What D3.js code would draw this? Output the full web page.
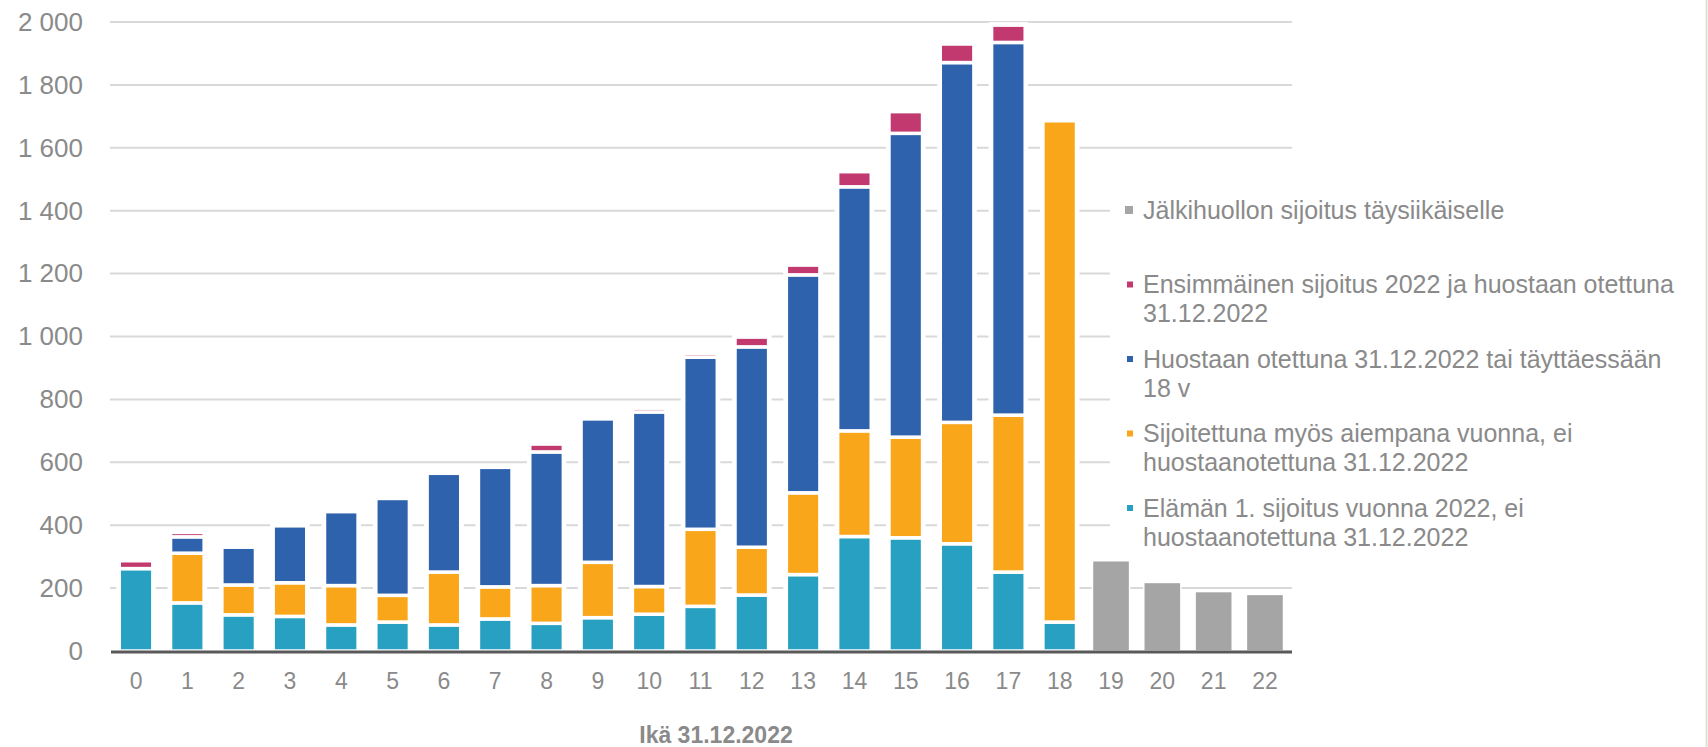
<!DOCTYPE html>
<html>
<head>
<meta charset="utf-8">
<script src="https://cdnjs.cloudflare.com/ajax/libs/d3/7.8.5/d3.min.js"></script>
<style>
  html, body { margin: 0; padding: 0; background: #ffffff; }
  svg { display: block; }
  text { font-family: "Liberation Sans", Arial, sans-serif; fill: #8a8a8a; }
</style>
</head>
<body>
<script>
// ages on the x axis
var ages = ["0", "1", "2", "3", "4", "5", "6", "7", "8", "9", "10", "11",
            "12", "13", "14", "15", "16", "17", "18", "19", "20", "21", "22"];

// series, bottom to top in the stack
var elaman      = [262, 153, 115, 110, 83, 92, 83, 102, 88, 106, 117, 142, 178, 243, 364, 360, 341, 251, 92, 0, 0, 0, 0];
var sijoitettu  = [0, 158, 95, 107, 125, 85, 168, 102, 120, 176, 88, 245, 152, 260, 336, 320, 386, 499, 1594, 0, 0, 0, 0];
var huostaan    = [0, 52, 120, 181, 235, 308, 314, 380, 425, 456, 555, 547, 637, 693, 776, 966, 1144, 1185, 0, 0, 0, 0, 0];
var ensimmainen = [25, 14, 0, 0, 0, 0, 0, 0, 25, 0, 12, 12, 31, 31, 48, 69, 59, 55, 0, 0, 0, 0, 0];
var jalkihuolto = [0, 0, 0, 0, 0, 0, 0, 0, 0, 0, 0, 0, 0, 0, 0, 0, 0, 0, 0, 287, 218, 189, 180];

var yTicks = [0, 200, 400, 600, 800, 1000, 1200, 1400, 1600, 1800, 2000];

var keys = ["elaman", "sijoitettu", "huostaan", "ensimmainen"];
var colors = {
  elaman: "#28a0c1",
  sijoitettu: "#f9a61b",
  huostaan: "#2f62ad",
  ensimmainen: "#c1396f",
  jalkihuolto: "#a5a5a5"
};

// legend, top to bottom
var legendItems = [
  { key: "jalkihuolto", lines: ["Jälkihuollon sijoitus täysiikäiselle"] },
  { key: "ensimmainen", lines: ["Ensimmäinen sijoitus 2022 ja huostaan otettuna", "31.12.2022"] },
  { key: "huostaan", lines: ["Huostaan otettuna 31.12.2022 tai täyttäessään", "18 v"] },
  { key: "sijoitettu", lines: ["Sijoitettuna myös aiempana vuonna, ei", "huostaanotettuna 31.12.2022"] },
  { key: "elaman", lines: ["Elämän 1. sijoitus vuonna 2022, ei", "huostaanotettuna 31.12.2022"] }
];

var width = 1708, height = 747;

var rows = ages.map(function (a, i) {
  return {
    age: a,
    elaman: elaman[i],
    sijoitettu: sijoitettu[i],
    huostaan: huostaan[i],
    ensimmainen: ensimmainen[i],
    jalkihuolto: jalkihuolto[i]
  };
});

var svg = d3.select("body").append("svg")
  .attr("width", width)
  .attr("height", height);

svg.append("rect")
  .attr("width", width).attr("height", height)
  .attr("fill", "#ffffff");

// right edge frame
svg.append("line")
  .attr("x1", 1706.5).attr("x2", 1706.5)
  .attr("y1", 0).attr("y2", height)
  .attr("stroke", "#dde1d3").attr("stroke-width", 2);

var x = d3.scaleBand()
  .domain(ages)
  .range([110.5, 1290.5])
  .paddingInner(0.345)
  .paddingOuter(0.17);

var y = d3.scaleLinear()
  .domain([0, 2000])
  .range([651, 22]);

//
// gridlines
//
svg.append("g")
  .selectAll("line")
  .data(yTicks.slice(1))
  .enter().append("line")
  .attr("x1", 110).attr("x2", 1292)
  .attr("y1", function (d) { return y(d); })
  .attr("y2", function (d) { return y(d); })
  .attr("stroke", "#d9d9d9")
  .attr("stroke-width", 2);

// legend background hides the gridlines behind it
svg.append("rect")
  .attr("x", 1110).attr("y", 178)
  .attr("width", 560).attr("height", 382)
  .attr("fill", "#ffffff");

//
// stacked bars
//
var stacked = d3.stack().keys(keys)(rows);

var bw = x.bandwidth();
var cx = function (d) { return x(d.data.age) + bw / 2; };

// white halo behind each column
var totals = stacked[stacked.length - 1];
svg.append("g")
  .selectAll("rect")
  .data(totals.filter(function (d) { return d[1] > 0; }))
  .enter().append("rect")
  .attr("x", function (d) { return cx(d) - bw / 2 - 3; })
  .attr("width", bw + 6)
  .attr("y", function (d) { return y(d[1]) - 3; })
  .attr("height", function (d) { return y(0) - y(d[1]) + 3; })
  .attr("fill", "#ffffff");

svg.append("g")
  .selectAll("g")
  .data(stacked)
  .enter().append("g")
  .attr("fill", function (s) { return colors[s.key]; })
  .selectAll("rect")
  .data(function (s) { return s.filter(function (d) { return d[1] - d[0] > 0; }); })
  .enter().append("rect")
  .attr("x", function (d) { return cx(d) - bw / 2; })
  .attr("width", bw)
  .attr("y", function (d) { return y(d[1]); })
  .attr("height", function (d) { return y(d[0]) - y(d[1]); })
  .attr("stroke", "#ffffff")
  .attr("stroke-width", 3.5);

// grey bars are a little wider
var gw = bw + 3.5;
svg.append("g")
  .selectAll("rect")
  .data(rows.filter(function (d) { return d.jalkihuolto > 0; }))
  .enter().append("rect")
  .attr("x", function (d) { return x(d.age) + bw / 2 - gw / 2; })
  .attr("width", gw)
  .attr("y", function (d) { return y(d.jalkihuolto); })
  .attr("height", function (d) { return y(0) - y(d.jalkihuolto); })
  .attr("fill", colors.jalkihuolto)
  .attr("stroke", "#ffffff")
  .attr("stroke-width", 1.5);

//
// axes
//
var yAxis = d3.axisLeft(y)
  .tickValues(yTicks)
  .tickSize(0)
  .tickPadding(0)
  .tickFormat(function (d) { return d3.format(",")(d).replace(",", " "); });

var gy = svg.append("g")
  .attr("transform", "translate(83,0)")
  .call(yAxis);
gy.select(".domain").remove();
gy.selectAll("text")
  .attr("x", 0)
  .style("font-size", "26px")
  .attr("fill", "#8a8a8a");

var xAxis = d3.axisBottom(x).tickSize(0).tickPadding(0);
var gx = svg.append("g")
  .attr("transform", "translate(0,652)")
  .call(xAxis);
gx.select(".domain").remove();
gx.selectAll("text")
  .attr("y", 21)
  .attr("dy", "0.71em")
  .style("font-size", "23px")
  .attr("fill", "#8a8a8a");

svg.append("line")
  .attr("x1", 111).attr("x2", 1292)
  .attr("y1", 652).attr("y2", 652)
  .attr("stroke", "#595959")
  .attr("stroke-width", 3);

svg.append("text")
  .attr("x", 716).attr("y", 743)
  .attr("text-anchor", "middle")
  .style("font-size", "23px")
  .style("font-weight", "bold")
  .attr("fill", "#7f7f7f")
  .text("Ikä 31.12.2022");

//
// legend
//
var legend = svg.append("g")
  .selectAll("g")
  .data(legendItems)
  .enter().append("g")
  .attr("transform", function (d, i) { return "translate(1143," + (210 + i * 74.5) + ")"; });

legend.append("rect")
  .attr("x", function (d) { return d.key === "jalkihuolto" ? -18 : -16; })
  .attr("y", function (d) { return d.key === "jalkihuolto" ? -4 : -3; })
  .attr("width", function (d) { return d.key === "jalkihuolto" ? 8 : 6; })
  .attr("height", function (d) { return d.key === "jalkihuolto" ? 8 : 6; })
  .attr("fill", function (d) { return colors[d.key]; });

legend.append("text")
  .style("font-size", "25px")
  .attr("fill", "#8a8a8a")
  .selectAll("tspan")
  .data(function (d) { return d.lines; })
  .enter().append("tspan")
  .attr("x", 0)
  .attr("y", function (d, i) { return i * 29; })
  .attr("dy", "0.35em")
  .text(function (d) { return d; });
</script>
</body>
</html>
